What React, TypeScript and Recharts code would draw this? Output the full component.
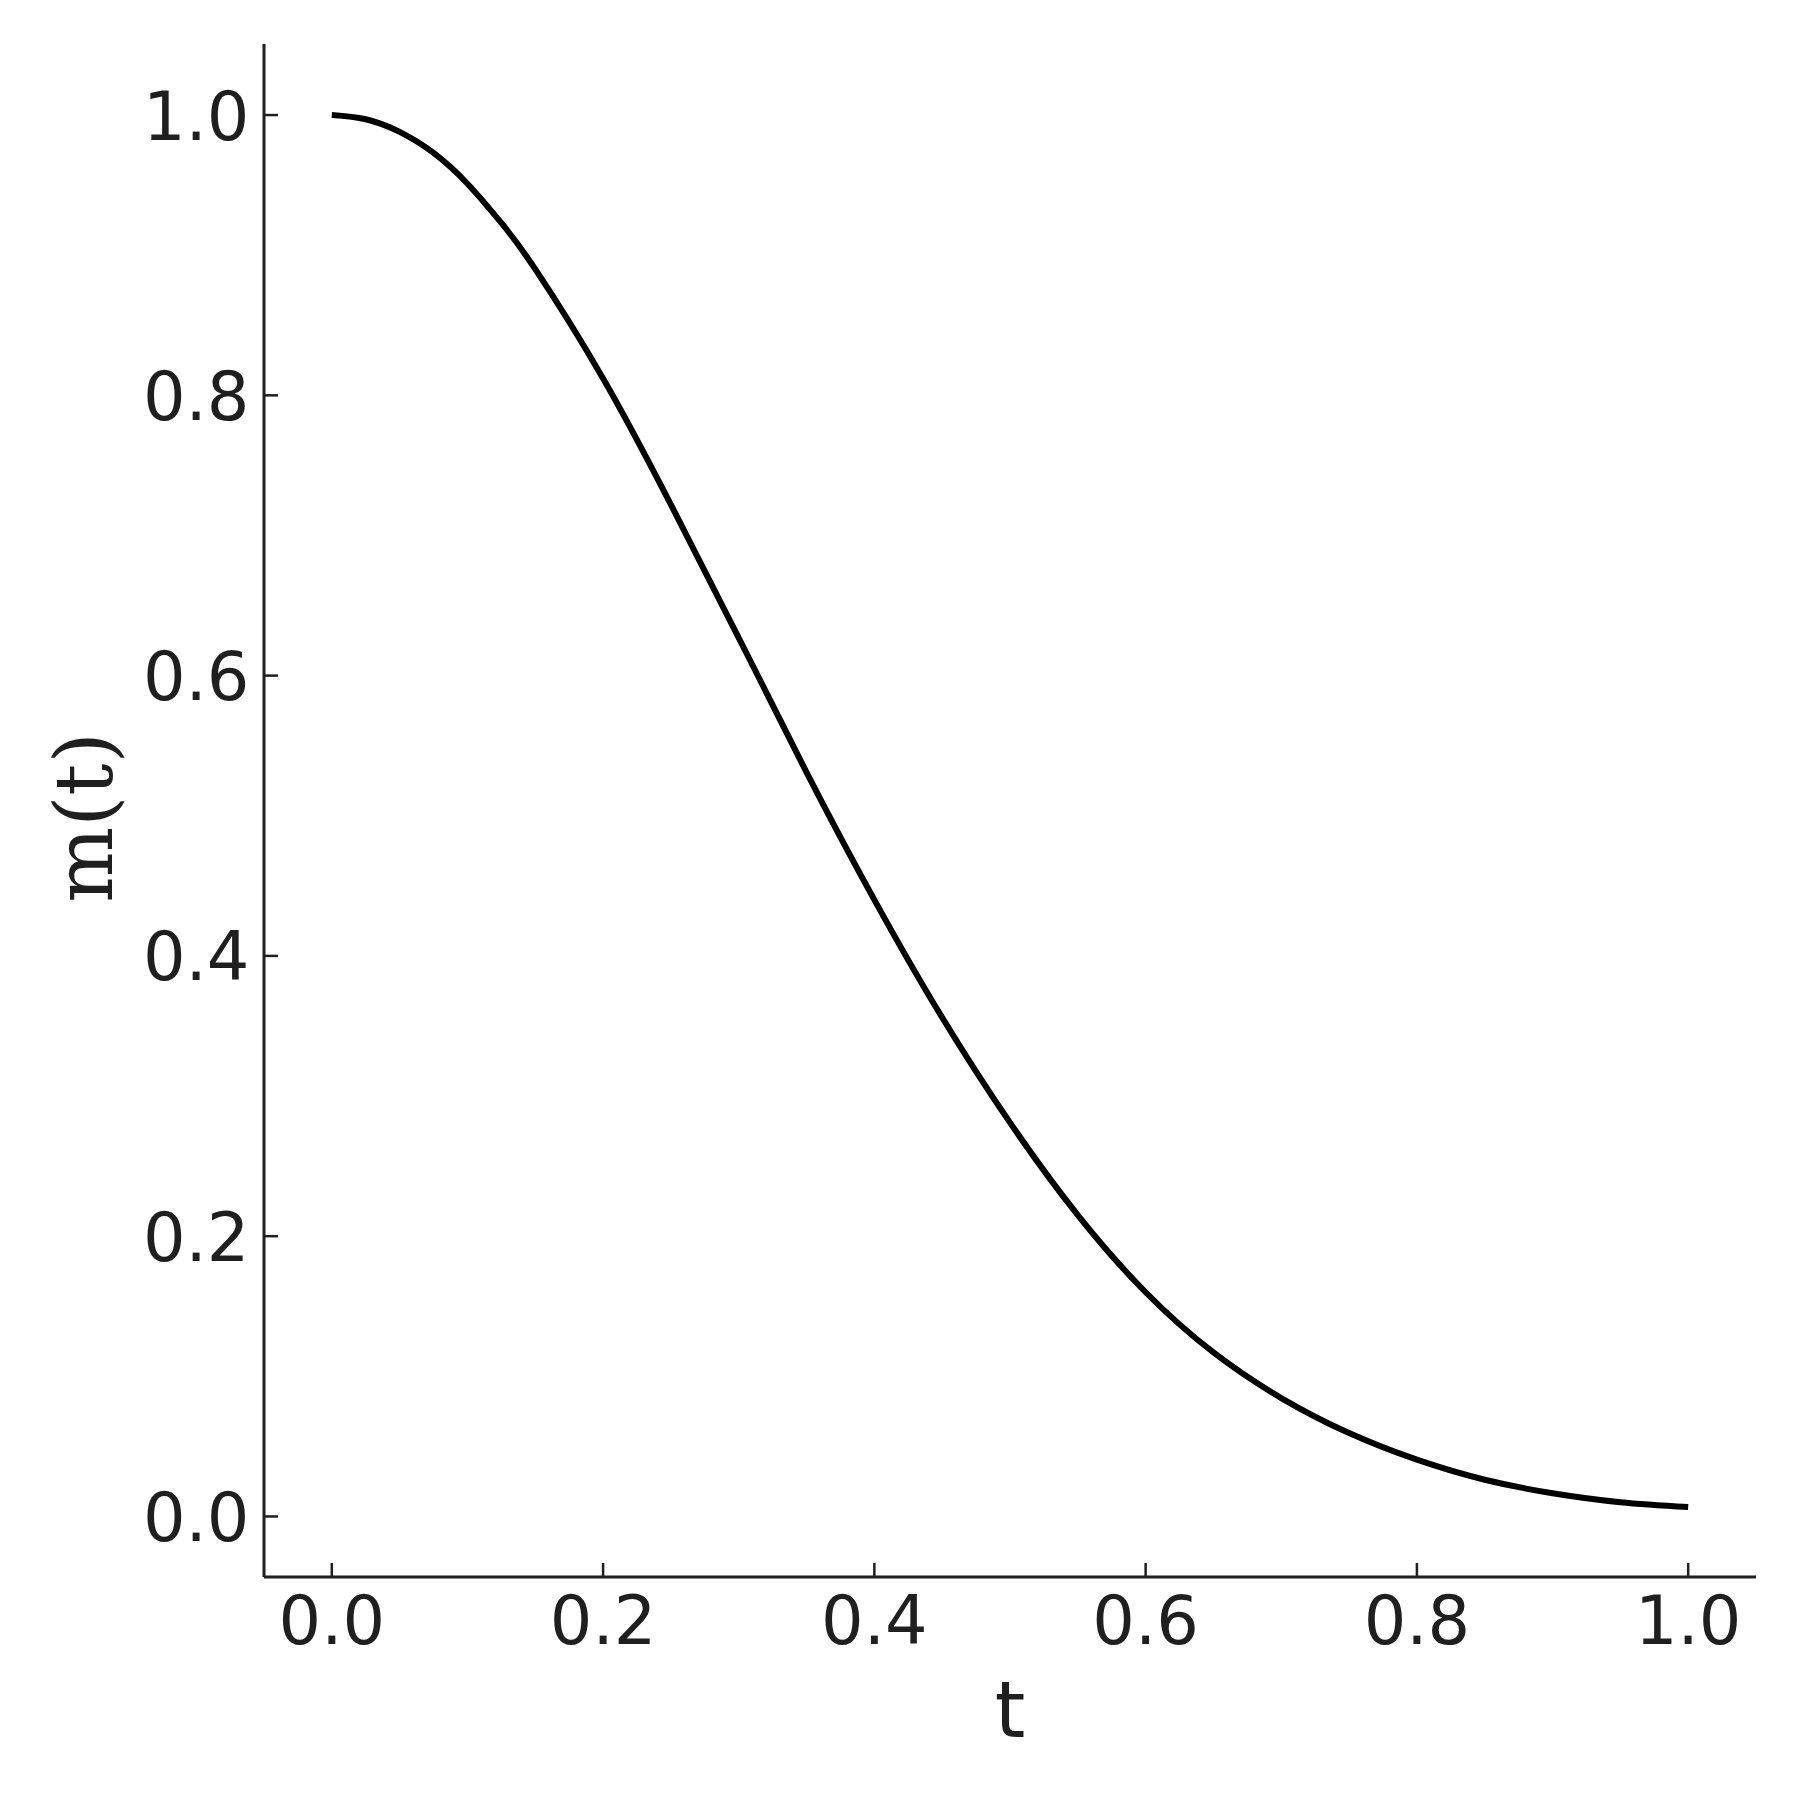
import React from "react";
import { LineChart, Line, XAxis, YAxis, Label } from "recharts";

// values
const tValues = [
  0, 0.025, 0.05, 0.075, 0.1, 0.125, 0.15, 0.2, 0.25, 0.3, 0.35, 0.4, 0.45,
  0.5, 0.55, 0.6, 0.65, 0.7, 0.75, 0.8, 0.85, 0.9, 0.95, 1.0,
];
const mValues = [
  1.0, 0.997, 0.988, 0.973, 0.951, 0.923, 0.89, 0.812, 0.722, 0.627, 0.531,
  0.44, 0.356, 0.281, 0.215, 0.16, 0.117, 0.0845, 0.0595, 0.0405, 0.0262,
  0.0166, 0.0102, 0.0067,
];
const xTicks = [0, 0.2, 0.4, 0.6, 0.8, 1.0];
const yTicks = [0, 0.2, 0.4, 0.6, 0.8, 1.0];

const data = tValues.map((t, i) => ({ t, m: mValues[i] }));

const INK = "#1f1f1f";
const TICK_FONT = "DejaVu Sans";

const XTick = (props: any) => {
  const { x, y, payload } = props;
  return (
    <g>
      <line x1={x} y1={y} x2={x} y2={y - 14} stroke={INK} strokeWidth={2.5} />
      <text
        x={x}
        y={y + 67}
        textAnchor="middle"
        fontFamily={TICK_FONT}
        fontSize={67}
        fill={INK}
      >
        {Number(payload.value).toFixed(1)}
      </text>
    </g>
  );
};

const YTick = (props: any) => {
  const { x, y, payload } = props;
  return (
    <g>
      <line x1={x} y1={y} x2={x + 14} y2={y} stroke={INK} strokeWidth={2.5} />
      <text
        x={x - 14.5}
        y={y + 24.5}
        textAnchor="end"
        fontFamily={TICK_FONT}
        fontSize={67}
        fill={INK}
      >
        {Number(payload.value).toFixed(1)}
      </text>
    </g>
  );
};

export default function App() {
  return (
    <div style={{ position: "absolute", left: 0, top: 0, background: "#fff" }}>
      <LineChart
        width={1800}
        height={1800}
        data={data}
        margin={{ top: 44, right: 44, bottom: 0, left: 0 }}
      >
        <XAxis
          type="number"
          dataKey="t"
          domain={[-0.05, 1.05]}
          ticks={xTicks}
          allowDataOverflow
          height={223}
          tickSize={0}
          tickMargin={0}
          tickLine={false}
          tick={<XTick />}
          axisLine={{ stroke: INK, strokeWidth: 3 }}
          interval={0}
        >
          <Label
            content={({ viewBox }: any) => (
              <text
                x={viewBox.x + viewBox.width / 2}
                y={1737}
                textAnchor="middle"
                fontFamily="DejaVu Sans"
                fontSize={78}
                fill={INK}
              >
                t
              </text>
            )}
          />
        </XAxis>
        <YAxis
          type="number"
          domain={[-0.0432, 1.0507]}
          ticks={yTicks}
          allowDataOverflow
          width={264}
          tickSize={0}
          tickMargin={0}
          tickLine={false}
          tick={<YTick />}
          axisLine={{ stroke: INK, strokeWidth: 3 }}
          interval={0}
        >
          <Label
            content={({ viewBox }: any) => {
              const cy = viewBox.y + viewBox.height / 2 + 7;
              return (
                <text
                  x={112}
                  y={cy}
                  transform={`rotate(-90, 112, ${cy})`}
                  textAnchor="middle"
                  fontFamily="DejaVu Serif"
                  fontSize={80}
                  fill={INK}
                >
                  m(t)
                </text>
              );
            }}
          />
        </YAxis>
        <Line
          type="natural"
          dataKey="m"
          stroke="#000"
          strokeWidth={6}
          dot={false}
          activeDot={false}
          isAnimationActive={false}
        />
      </LineChart>
    </div>
  );
}
